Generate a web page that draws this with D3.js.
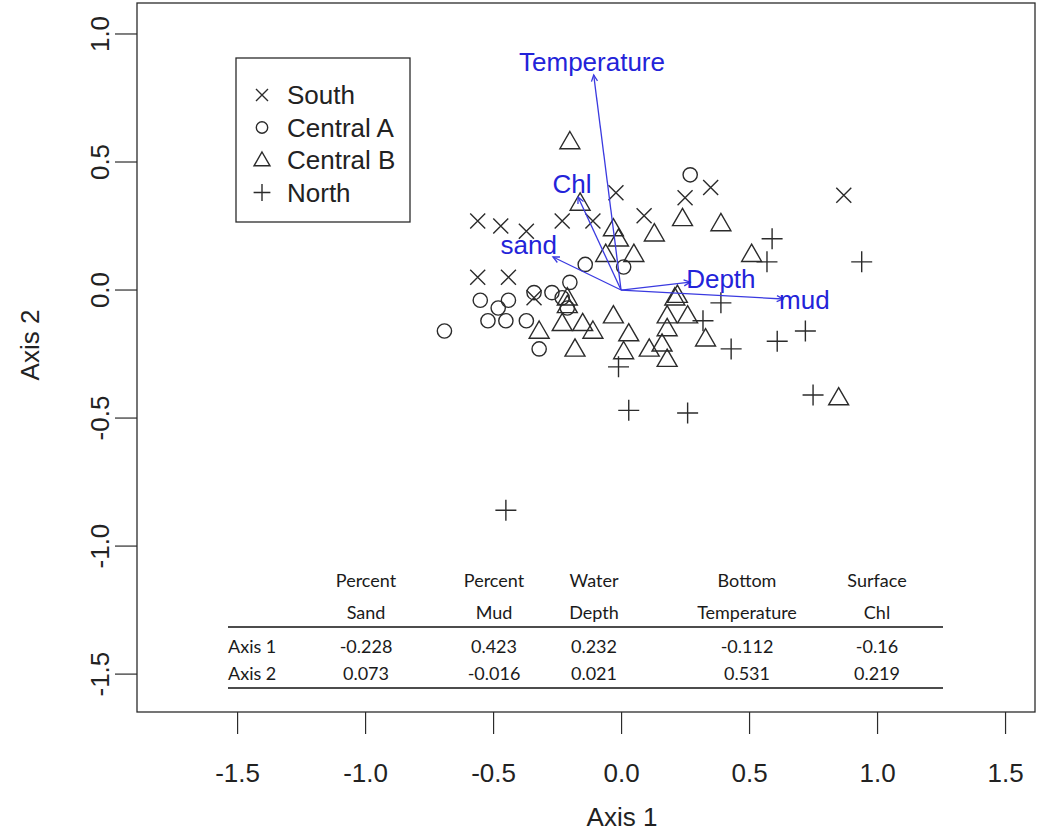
<!DOCTYPE html>
<html>
<head>
<meta charset="utf-8">
<script src="https://cdn.jsdelivr.net/npm/d3@7"></script>
<style>
  html, body { margin: 0; padding: 0; background: #fff; }
  svg { display: block; }
  text { font-family: "Liberation Sans", Arial, sans-serif; }
  .tbl text { font-family: Lato, "Open Sans", sans-serif; }
</style>
</head>
<body>
<svg id="chart" width="1039" height="832"></svg>
<script>
// Site scores on the first two ordination axes, by region
const southX   = [-0.56, -0.47, -0.37, -0.23, -0.11, -0.02, 0.09, 0.25, 0.35, 0.87, -0.56, -0.44, -0.34];
const southY   = [ 0.27,  0.25,  0.23,  0.27,  0.27,  0.38, 0.29, 0.36, 0.40, 0.37,  0.05,  0.05, -0.03];

const centralAX = [0.27, -0.14, 0.01, -0.20, -0.34, -0.27, -0.23, -0.21, -0.55, -0.44, -0.48, -0.52, -0.45, -0.37, -0.69, -0.32];
const centralAY = [0.45,  0.10, 0.09,  0.03, -0.01, -0.01, -0.03, -0.07, -0.04, -0.04, -0.07, -0.12, -0.12, -0.12, -0.16, -0.23];

const centralBX = [-0.20, -0.16, -0.03, -0.01, 0.13, 0.24, 0.39, -0.06, 0.05, 0.51, 0.22, -0.21, -0.21, -0.32, -0.23, -0.15,
                   -0.11, -0.18, -0.03, 0.03, 0.01, 0.21, 0.18, 0.26, 0.18, 0.16, 0.11, 0.18, 0.33, 0.85];
const centralBY = [ 0.58,  0.34,  0.24,  0.20, 0.22, 0.28, 0.26,  0.14, 0.14, 0.14, -0.02, -0.03, -0.06, -0.16, -0.13, -0.13,
                   -0.16, -0.23, -0.10, -0.17, -0.24, -0.03, -0.10, -0.10, -0.15, -0.21, -0.23, -0.27, -0.19, -0.42];

const northX = [0.59, 0.57, 0.94, 0.39, 0.32, 0.43, 0.61, 0.72, 0.75, 0.26, 0.03, -0.01, -0.45];
const northY = [0.20, 0.11, 0.11, -0.05, -0.12, -0.23, -0.20, -0.16, -0.41, -0.48, -0.47, -0.30, -0.86];

// Fitted environmental vectors (arrow tips, axis units)
const vecNames = ["Temperature", "Chl", "sand", "Depth", "mud"];
const vecX     = [-0.107, -0.168, -0.266, 0.270, 0.633];
const vecY     = [ 0.840,  0.363,  0.129, 0.031, -0.035];

// Axis ticks
const xTicks = [-1.5, -1.0, -0.5, 0.0, 0.5, 1.0, 1.5];
const yTicks = [-1.5, -1.0, -0.5, 0.0, 0.5, 1.0];

// Legend entries
const groupNames   = ["South", "Central A", "Central B", "North"];
const groupSymbols = ["cross", "circle", "triangle", "plus"];

// Correlation table
const tableHead1 = ["Percent", "Percent", "Water", "Bottom", "Surface"];
const tableHead2 = ["Sand", "Mud", "Depth", "Temperature", "Chl"];
const rowNames   = ["Axis 1", "Axis 2"];
const axis1Vals  = ["-0.228", "0.423", "0.232", "-0.112", "-0.16"];
const axis2Vals  = ["0.073", "-0.016", "0.021", "0.531", "0.219"];

const svg = d3.select("#chart");
const ink = "#2b2b2b";
const blue = "#2323d9";
const fmt = d => d.toFixed(1);

// plot region
const L = 137, R = 1035, T = 3, B = 712;
const x = d3.scaleLinear().domain([-1.891, 1.617]).range([L, R]);
const y = d3.scaleLinear().domain([-1.648, 1.121]).range([B, T]);

// frame
svg.append("rect").attr("x", L).attr("y", T).attr("width", R - L).attr("height", B - T)
  .attr("fill", "none").attr("stroke", ink).attr("stroke-width", 1.3);

// axes
const xAxis = d3.axisBottom(x).tickValues(xTicks).tickFormat(fmt).tickSize(22).tickPadding(30);
const gx = svg.append("g").attr("transform", `translate(0,${B})`).call(xAxis);
gx.select(".domain").remove();
gx.selectAll("line").attr("stroke", ink).attr("stroke-width", 1.2);
gx.selectAll("text").attr("font-size", 26).attr("fill", "#222")
  .attr("font-family", "'Liberation Sans', Arial, sans-serif");

const yAxis = d3.axisLeft(y).tickValues(yTicks).tickFormat(fmt).tickSize(22).tickPadding(0);
const gy = svg.append("g").attr("transform", `translate(${L},0)`).call(yAxis);
gy.select(".domain").remove();
gy.selectAll("line").attr("stroke", ink).attr("stroke-width", 1.2);
gy.selectAll("text").attr("font-size", 26).attr("fill", "#222")
  .attr("font-family", "'Liberation Sans', Arial, sans-serif")
  .attr("x", 0).attr("dy", 0).attr("text-anchor", "middle")
  .attr("transform", d => `translate(-37,${y(d)}) rotate(-90)`)
  .attr("y", 0).attr("dominant-baseline", "central");
gy.selectAll(".tick").attr("transform", null);
gy.selectAll(".tick line").attr("y1", d => y(d)).attr("y2", d => y(d));

// axis titles
svg.append("text").attr("x", 622).attr("y", 817).attr("text-anchor", "middle")
  .attr("dominant-baseline", "central").attr("font-size", 26).attr("fill", "#222").text("Axis 1");
svg.append("text").attr("transform", "translate(30,345) rotate(-90)").attr("text-anchor", "middle")
  .attr("dominant-baseline", "central").attr("font-size", 26).attr("fill", "#222").text("Axis 2");

// symbol painters (R pch 4, 1, 2, 3)
function drawSymbol(g, kind, cx, cy, s) {
  const st = { stroke: ink, "stroke-width": 1.4, fill: "none" };
  const apply = sel => { Object.entries(st).forEach(([k, v]) => sel.attr(k, v)); return sel; };
  if (kind === "cross") {
    apply(g.append("path").attr("d",
      `M${cx - s},${cy - s}L${cx + s},${cy + s}M${cx - s},${cy + s}L${cx + s},${cy - s}`));
  } else if (kind === "plus") {
    const a = s * 1.4;
    apply(g.append("path").attr("d", `M${cx - a},${cy}L${cx + a},${cy}M${cx},${cy - a}L${cx},${cy + a}`));
  } else if (kind === "circle") {
    apply(g.append("circle").attr("cx", cx).attr("cy", cy).attr("r", s * 0.95));
  } else if (kind === "triangle") {
    const h = s * 2.3, w = s * 1.33;
    apply(g.append("path").attr("d",
      `M${cx},${cy - h * 0.58}L${cx + w},${cy + h * 0.42}L${cx - w},${cy + h * 0.42}Z`));
  }
}

const pts = svg.append("g");
const groups = [[southX, southY], [centralAX, centralAY], [centralBX, centralBY], [northX, northY]];
groups.forEach(([xs, ys], gi) => {
  xs.forEach((v, i) => drawSymbol(pts, groupSymbols[gi], x(v), y(ys[i]), 7.5));
});

// environmental vectors
const vg = svg.append("g");
const ox = x(0), oy = y(0);
vecNames.forEach((name, i) => {
  const tx = x(vecX[i]), ty = y(vecY[i]);
  vg.append("line").attr("x1", ox).attr("y1", oy).attr("x2", tx).attr("y2", ty)
    .attr("stroke", "#3a3ae0").attr("stroke-width", 1.3);
  const ang = Math.atan2(ty - oy, tx - ox), hl = 7, ha = Math.PI / 7;
  vg.append("path")
    .attr("d", `M${tx - hl * Math.cos(ang - ha)},${ty - hl * Math.sin(ang - ha)}L${tx},${ty}` +
               `L${tx - hl * Math.cos(ang + ha)},${ty - hl * Math.sin(ang + ha)}`)
    .attr("fill", "none").attr("stroke", "#3a3ae0").attr("stroke-width", 1.3);
  // label set just beyond the tip, its box touching the arrow end
  const t = vg.append("text").attr("font-size", 26).attr("fill", blue)
    .attr("text-anchor", "middle").attr("dominant-baseline", "central").text(name);
  const bb = t.node().getBBox();
  const dx = Math.cos(ang), dy = Math.sin(ang);
  const hw = bb.width / 2 - 4, hh = 13;
  const d = Math.min(Math.abs(dx) > 1e-6 ? hw / Math.abs(dx) : 1e9, Math.abs(dy) > 1e-6 ? hh / Math.abs(dy) : 1e9);
  t.attr("x", tx + dx * d).attr("y", ty + dy * d);
});

// legend
const lg = svg.append("g");
lg.append("rect").attr("x", 236).attr("y", 58).attr("width", 174).attr("height", 164)
  .attr("fill", "#fff").attr("stroke", ink).attr("stroke-width", 1.3);
groupNames.forEach((n, i) => {
  const cy = 95 + i * 32.5;
  drawSymbol(lg, groupSymbols[i], 262, cy, 6);
  lg.append("text").attr("x", 287).attr("y", cy).attr("dominant-baseline", "central")
    .attr("font-size", 26).attr("fill", "#222").text(n);
});

// loadings table
const tb = svg.append("g").attr("class", "tbl");
const colX = [366, 494, 594, 747, 877];
const fs = 18;
tableHead1.forEach((h, i) => tb.append("text").attr("x", colX[i]).attr("y", 580).attr("text-anchor", "middle")
  .attr("dominant-baseline", "central").attr("font-size", fs).attr("fill", "#1a1a1a").text(h));
tableHead2.forEach((h, i) => tb.append("text").attr("x", colX[i]).attr("y", 612).attr("text-anchor", "middle")
  .attr("dominant-baseline", "central").attr("font-size", fs).attr("fill", "#1a1a1a").text(h));
[axis1Vals, axis2Vals].forEach((row, r) => {
  const ry = 646 + r * 27;
  tb.append("text").attr("x", 228).attr("y", ry).attr("dominant-baseline", "central")
    .attr("font-size", fs).attr("fill", "#1a1a1a").text(rowNames[r]);
  row.forEach((v, i) => tb.append("text").attr("x", colX[i]).attr("y", ry).attr("text-anchor", "middle")
    .attr("dominant-baseline", "central").attr("font-size", fs).attr("fill", "#1a1a1a").text(v));
});
[627, 688].forEach(ly => tb.append("line").attr("x1", 228).attr("x2", 943).attr("y1", ly).attr("y2", ly)
  .attr("stroke", "#111").attr("stroke-width", 1.3));
</script>
</body>
</html>
